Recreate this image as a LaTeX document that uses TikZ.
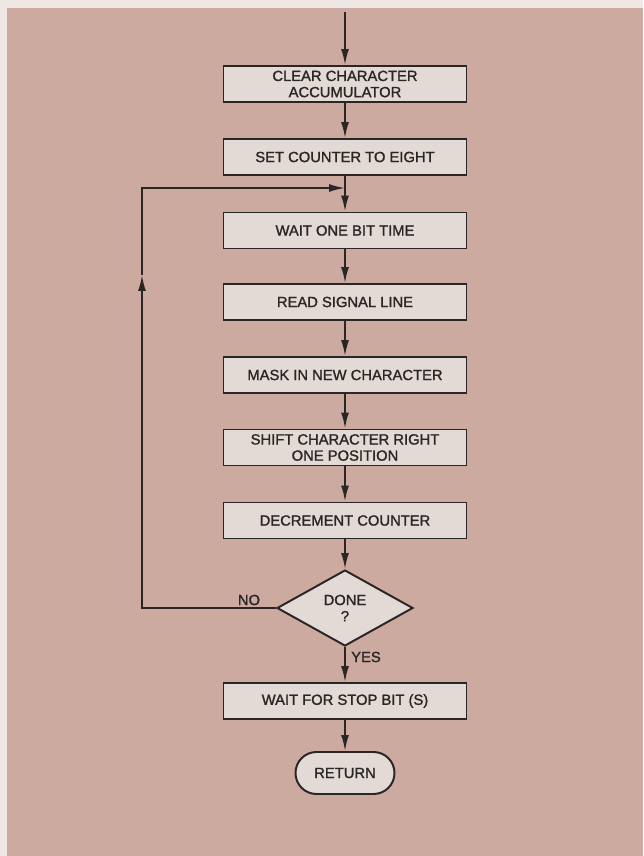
\documentclass[tikz,border=0pt]{standalone}
\usepackage{fontspec}
\setmainfont{Liberation Sans}[BoldFont=Liberation Sans,BoldFeatures={FakeBold=1.4}]
\usetikzlibrary{positioning,shapes.geometric,shapes.misc,arrows.meta}
\definecolor{paper}{HTML}{EEE7E4}
\definecolor{card}{HTML}{CDAAA0}
\definecolor{boxfill}{HTML}{E3DAD6}
\definecolor{ink}{HTML}{2A2626}

\begin{document}
\begin{tikzpicture}[font=\fontsize{10.5}{11.5}\selectfont\bfseries,text=ink,
  proc/.style={draw=ink,fill=boxfill,line width=1.4pt,minimum width=6.075cm,minimum height=0.9cm,inner sep=0pt,align=center},
  test/.style={diamond,aspect=1.8,draw=ink,fill=boxfill,line width=1.4pt,minimum width=3.4cm,minimum height=1.9cm,inner sep=0pt,align=center},
  term/.style={rounded rectangle,draw=ink,fill=boxfill,line width=1.4pt,minimum width=2.475cm,minimum height=1.05cm,inner sep=0pt},
  lbl/.style={inner sep=1pt},
  arr/.style={-{Latex[length=4mm,width=2mm]},line width=1.3pt,draw=ink}]
% sheet
\fill[paper] (-8.625,0) rectangle (7.45,-21.4);
\fill[card] (-8.45,-0.2) rectangle (7.45,-21.4);
\useasboundingbox (-8.625,0) rectangle (7.45,-21.4);
% steps
\coordinate (in) at (0,-0.3);
\node[proc] (b1) at (0,-2.1) {CLEAR CHARACTER\\ACCUMULATOR};
\node[proc] (b2) at (0,-3.925) {SET COUNTER TO EIGHT};
\node[proc] (b3) at (0,-5.7625) {WAIT ONE BIT TIME};
\node[proc] (b4) at (0,-7.55) {READ SIGNAL LINE};
\node[proc] (b5) at (0,-9.375) {MASK IN NEW CHARACTER};
\node[proc] (b6) at (0,-11.1875) {SHIFT CHARACTER RIGHT\\ONE POSITION};
\node[proc] (b7) at (0,-13.0125) {DECREMENT COUNTER};
\node[test] (dn) at (0,-15.2) {DONE\\?};
\node[proc] (b8) at (0,-17.525) {WAIT FOR STOP BIT (S)};
\node[term] (ret) at (0,-19.325) {RETURN};
% flow
\draw[arr] (in)--(b1);
\draw[arr] (b1)--(b2);
\draw[arr] (b2)--(b3);
\draw[arr] (b3)--(b4);
\draw[arr] (b4)--(b5);
\draw[arr] (b5)--(b6);
\draw[arr] (b6)--(b7);
\draw[arr] (b7)--(dn);
\draw[arr] (dn)--(b8);
\draw[arr] (b8)--(ret);
\node[lbl] (yes) at (0.525,-16.425) {YES};
% loop back
\coordinate (jn) at (0,-4.7);
\coordinate (lft) at (-5.075,-6.875);
\draw[arr] (dn.west) -| (lft);
\draw[arr] (lft) |- (jn);
\node[lbl] (no) at (-2.4,-15.0) {NO};
\end{tikzpicture}
\end{document}
